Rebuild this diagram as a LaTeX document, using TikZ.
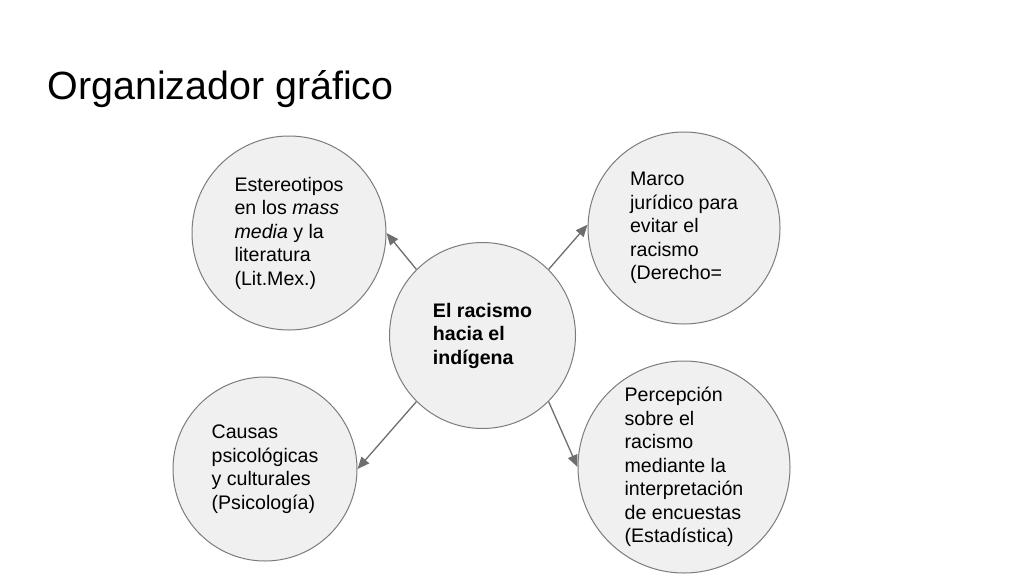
\documentclass[tikz,border=0pt]{standalone}
\usepackage{fontspec}
\setmainfont{Liberation Sans}
\usetikzlibrary{arrows.meta}
\definecolor{bubblefill}{HTML}{F0F0F0}
\definecolor{bubbleline}{HTML}{7C7C7C}
\definecolor{arrowgray}{HTML}{6E6E6E}
\begin{document}
\begin{tikzpicture}[x=1pt,y=-1pt,
    bubble/.style={circle,draw=bubbleline,fill=bubblefill,line width=1pt,inner sep=0pt,
      align=left,font=\fontsize{19.6}{23.5}\selectfont},
    link/.style={draw=arrowgray,line width=1.3pt,-{Triangle[length=12pt,width=10pt]}}]
            \useasboundingbox [fill=white] (0,0) rectangle (1024,576);
            \node [anchor=base west,font=\fontsize{39.4}{47}\selectfont] (title) at (44,99) {Organizador gráfico};
            \node [bubble,minimum size=186pt,font=\fontsize{19.6}{23.5}\selectfont\bfseries] (racismo) at (482.5,335.5) {El racismo\\hacia el\\indígena};
            \node [bubble,minimum size=194pt] (estereotipos) at (289,233) {Estereotipos\\en los \textit{mass}\\\textit{media} y la\\literatura\\(Lit.Mex.)};
            \node [bubble,minimum size=192pt] (marco) at (684,228) {Marco\\jurídico para\\evitar el\\racismo\\(Derecho=};
            \node [bubble,minimum size=184pt] (causas) at (265,469) {Causas\\psicológicas\\y culturales\\(Psicología)};
            \node [bubble,minimum size=212pt] (percepcion) at (684,467) {Percepción\\sobre el\\racismo\\mediante la\\interpretación\\de encuestas\\(Estadística)};
            \draw [link] (racismo.135) -- (estereotipos.east);
            \draw [link] (racismo.45) -- (marco.178);
            \draw [link] (racismo.225) -- (causas.east);
            \draw [link] (racismo.315) -- (percepcion.west);
        \end{tikzpicture}
\end{document}
